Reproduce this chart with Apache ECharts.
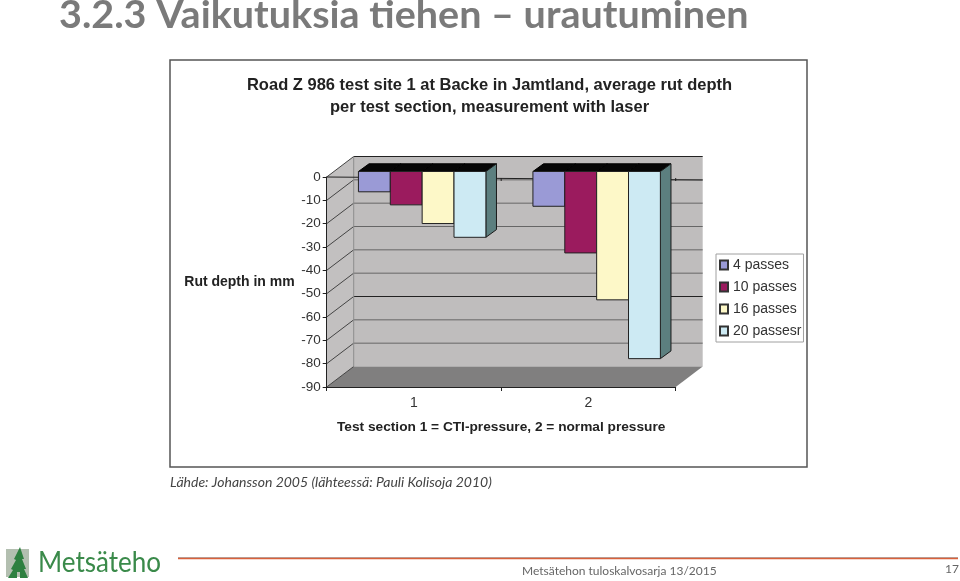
<!DOCTYPE html>
<html><head><meta charset="utf-8">
<style>html,body{margin:0;padding:0;background:#fff}#c{width:960px;height:581px}</style>
<script src="https://cdn.jsdelivr.net/npm/echarts@6/dist/echarts.min.js"></script>
</head><body><div id="c"></div>
<script>
const categories = ['1', '2'];
const ticks = [0, -10, -20, -30, -40, -50, -60, -70, -80, -90];
const passes4 = [-8.7, -14.9];
const passes10 = [-14.3, -34.9];
const passes16 = [-22.3, -55];
const passes20 = [-28.2, -80.2];
const seriesNames = ['4 passes', '10 passes', '16 passes', '20 passesr'];
const seriesColors = ['#9a9ad6', '#9b1b5e', '#fdf8c8', '#cdeaf3'];
const sideColors = ['#5f5f8a', '#641040', '#a5a080', '#5c7f7f'];
const darkGridTicks = [-60];

const WALL = [27, -20.5];      // wall depth of the 3D box
const PLANE = [8.2, -5.5];     // bar plane offset inside the box
const DEPTH = [10.6, -7.7];    // bar depth
const BARW = 0.1826;           // bar width as share of a category band

function poly(points, fill, stroke, lw) {
  return {type:'polygon', shape:{points}, style:{fill, stroke:stroke||null, lineWidth:lw||0}};
}
function line(a, b, stroke, lw, opacity) {
  return {type:'line', shape:{x1:a[0],y1:a[1],x2:b[0],y2:b[1]}, style:{stroke, lineWidth:lw||1, opacity:opacity==null?1:opacity}};
}
function shift(p, d) { return [p[0]+d[0], p[1]+d[1]]; }

function renderWalls(params, api) {
  const band = api.size([1,0])[0];
  const x0 = api.coord([0,0])[0] - band/2;
  const x1 = api.coord([1,0])[0] + band/2;
  const yTop = api.coord([0,0])[1];
  const yBot = api.coord([0,-90])[1];
  const A=[x0,yTop], B=[x0,yBot], C=[x1,yBot];
  const children = [
    poly([shift(A,WALL),[x1+WALL[0],yTop+WALL[1]],shift(C,WALL),shift(B,WALL)], '#bfbdbd'),
    poly([A,shift(A,WALL),shift(B,WALL),B], '#c2c0c0'),
    poly([B,shift(B,WALL),shift(C,WALL),C], '#807f7f')
  ];
  ticks.forEach(function(t){
    const y = api.coord([0,t])[1];
    const dark = darkGridTicks.indexOf(t) >= 0 || t === 0;
    if (t !== -90) {
      children.push(line([x0+WALL[0],y+WALL[1]],[x1+WALL[0],y+WALL[1]], dark?'#222':'#666', 1));
    }
    children.push(line([x0,y],[x0+WALL[0],y+WALL[1]], '#444', 1));
  });
  children.push(line(shift(A,WALL),shift(B,WALL),'#8a8a8a',1));
  // zero line running through the box
  children.push(line([x0,yTop],[x1+WALL[0],yTop+3],'#222',1));
  [api.coord([1,0])[0]-band/2, x1].forEach(function(x){
    children.push(line([x,yTop+1],[x,yTop+4],'#222',1));
  });
  return {type:'group', children};
}

function makeBars(si) {
  return function(params, api) {
    const c = api.coord([api.value(0),0]);
    const v = api.coord([api.value(0),api.value(1)]);
    const band = api.size([1,0])[0];
    const w = band*BARW;
    const xl = c[0]+PLANE[0]-2*w+si*w, xr = xl+w;
    const yt = c[1]+PLANE[1], yb = v[1]+PLANE[1];
    const fl=[xl,yt], fr=[xr,yt], bl=[xl,yb], br=[xr,yb];
    return {type:'group', children:[
      poly([fl,shift(fl,DEPTH),shift(fr,DEPTH),fr], '#060606', '#000', 1),
      poly([fr,shift(fr,DEPTH),shift(br,DEPTH),br], sideColors[si], '#1a1a1a', 1),
      poly([fl,fr,br,bl], seriesColors[si], '#222', 1)
    ]};
  };
}

const values = [passes4, passes10, passes16, passes20];
const series = [{
  type:'custom', name:'walls', silent:true, z:1, clip:false,
  data:[[0,0]], encode:{x:0,y:1}, renderItem:renderWalls
}];
values.forEach(function(vals, si){
  series.push({
    type:'custom', name:seriesNames[si], z:2+si, clip:false,
    itemStyle:{color:seriesColors[si], borderColor:'#333', borderWidth:1},
    data:vals.map(function(v,i){return [i,v];}),
    encode:{x:0,y:1}, renderItem:makeBars(si)
  });
});

const chart = echarts.init(document.getElementById('c'), null, {renderer:'canvas'});
chart.setOption({
  backgroundColor:'#fff',
  animation:false,
  title:{
    text:'Road Z 986 test site 1 at Backe in Jamtland, average rut depth\nper test section, measurement with laser',
    left:484.5, top:69.5, textAlign:'center',
    textStyle:{fontFamily:'Liberation Sans',fontWeight:'bold',fontSize:16.5,lineHeight:22,color:'#222'}
  },
  grid:{left:326.7, top:177, width:349, height:210, containLabel:false},
  legend:{
    orient:'vertical', left:716, top:254, padding:[4,2,4,3], itemGap:8,
    itemWidth:8, itemHeight:9, icon:'rect',
    backgroundColor:'#fff', borderColor:'#a0a0a0', borderWidth:1,
    textStyle:{fontFamily:'Liberation Sans',fontSize:14,color:'#333',lineHeight:14},
    data:seriesNames
  },
  xAxis:{
    type:'category', data:categories, position:'bottom',
    axisLine:{onZero:false, lineStyle:{color:'#222',width:1}},
    axisTick:{show:true,length:4,lineStyle:{color:'#222'}},
    axisLabel:{fontFamily:'Liberation Sans',fontSize:14,color:'#333',margin:9},
    name:'Test section 1 = CTI-pressure, 2 = normal pressure',
    nameLocation:'middle', nameGap:33,
    nameTextStyle:{fontFamily:'Liberation Sans',fontWeight:'bold',fontSize:13.7,color:'#222'},
    z:8
  },
  yAxis:{
    type:'value', min:-90, max:0, interval:10,
    axisLine:{show:true,lineStyle:{color:'#222',width:1}},
    axisTick:{show:true,length:4,lineStyle:{color:'#222'}},
    splitLine:{show:false},
    axisLabel:{fontFamily:'Liberation Sans',fontSize:13.5,color:'#333',margin:6},
    name:'Rut depth in mm', nameLocation:'middle', nameRotate:0, nameGap:32,
    nameTextStyle:{fontFamily:'Liberation Sans',fontWeight:'bold',fontSize:14,color:'#222',padding:[7,0,0,0]},
    z:8
  },
  series:series,
  graphic:[
    {type:'text', x:59, y:-3, scaleX:1.04, style:{text:'3.2.3 Vaikutuksia tiehen – urautuminen', font:'bold 38px Lato', fill:'#7a7a7a'}},
    {type:'rect', z:-1, shape:{x:170,y:60,width:637,height:407}, style:{fill:'#fff',stroke:'#555',lineWidth:1.5}},
    {type:'text', left:170, top:475, style:{text:'Lähde: Johansson 2005 (lähteessä: Pauli Kolisoja 2010)', font:'italic 14px Lato', fill:'#444'}},
    {type:'polygon', shape:{points:[[6,549],[29,549],[29,577],[6,577]]}, style:{fill:'#b3bfb0'}},
    {type:'polygon', shape:{points:[[20,547],[24,559],[22,559],[26,569],[24,569],[28,578],[20,578],[20,572],[17,572],[17,578],[8,578],[13,570],[11,569],[16,560],[14,559]]}, style:{fill:'#2e8040'}},
    {type:'text', x:38, y:549, scaleX:0.93, style:{text:'Metsäteho', font:'28px Lato', fill:'#3a8a4a'}},
    {type:'line', shape:{x1:178,y1:557.5,x2:958,y2:557.5}, style:{stroke:'#b0b0b0',lineWidth:1}},
    {type:'line', shape:{x1:178,y1:558.5,x2:958,y2:558.5}, style:{stroke:'#d9603a',lineWidth:1.5}},
    {type:'text', left:522, top:565, style:{text:'Metsätehon tuloskalvosarja 13/2015', font:'12px Lato', fill:'#666'}},
    {type:'text', left:945, top:563, style:{text:'17', font:'12px Lato', fill:'#666'}}
  ]
});
</script></body></html>
